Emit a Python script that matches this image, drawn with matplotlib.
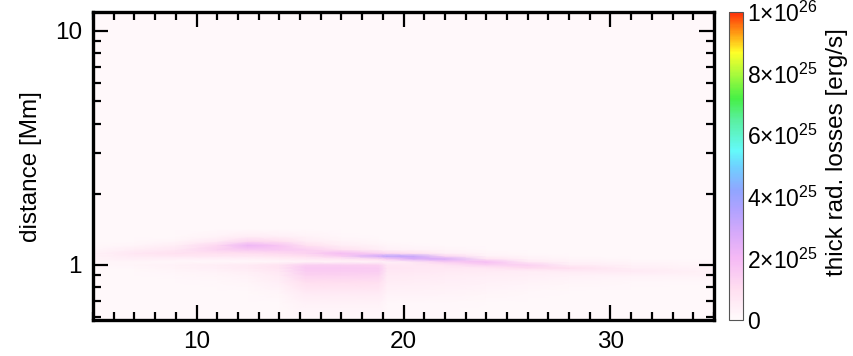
import numpy as np
import matplotlib
matplotlib.use("Agg")
import matplotlib.pyplot as plt
from matplotlib.colors import LinearSegmentedColormap
from matplotlib.ticker import MultipleLocator, LogLocator, NullFormatter

plt.rcParams['font.family'] = ['Liberation Sans', 'DejaVu Sans']
plt.rcParams['mathtext.fontset'] = 'custom'
plt.rcParams['mathtext.rm'] = 'Liberation Sans'
plt.rcParams['mathtext.it'] = 'Liberation Sans'

# time nodes (x) and distance nodes in Mm (y)
time_nodes = [5, 7, 9, 11, 12.5, 14, 15.3, 17, 18.8, 19.2, 20.5, 22, 24, 26, 28, 31, 35]
dist_nodes = [0.58, 0.68, 0.76, 0.84, 0.90, 0.94, 0.97, 1.00, 1.03, 1.06,
              1.09, 1.12, 1.16, 1.21, 1.26, 1.32, 1.42, 12.0]

# thick radiative losses in 1e25 erg/s, one row per distance node (bottom -> top)
losses = [
    [.1, .1, .1, .1, .1, .1, .15, .15, .15, .1, .1, .1, .1, .1, .1, .1, .1],
    [.1, .1, .1, .1, .1, .1, .3, .3, .3, .15, .15, .15, .1, .1, .1, .1, .1],
    [.1, .1, .1, .1, .1, .2, .6, .6, .6, .3, .3, .25, .2, .15, .1, .1, .1],
    [.1, .1, .1, .15, .2, .4, 1.0, 1.0, .95, .5, .45, .4, .35, .25, .2, .15, .1],
    [.1, .1, .15, .2, .3, .55, 1.3, 1.3, 1.25, .6, .55, .5, .45, .4, .35, .3, .3],
    [.1, .1, .2, .3, .45, .7, 1.5, 1.5, 1.45, .7, .65, .6, .55, .5, .6, .6, .25],
    [.1, .15, .25, .4, .55, .8, 1.6, 1.6, 1.5, .75, .7, .65, .7, 1.1, 1.0, .4, .2],
    [.15, .2, .3, .45, .55, .8, 1.4, 1.4, 1.3, .7, .65, .8, 1.4, 1.4, .5, .3, .15],
    [.2, .2, .15, .15, .15, .2, .3, .3, .3, .35, .7, 1.5, 1.9, .6, .3, .2, .1],
    [.25, .4, .35, .35, .35, .45, .6, .7, 1.1, 1.5, 2.7, 2.8, .8, .3, .2, .1, .1],
    [.3, .55, .7, .7, .7, .8, 1.0, 1.5, 2.9, 3.3, 3.1, 1.2, .3, .2, .1, .1, .1],
    [.3, .7, .9, .9, 1.0, 1.1, 1.3, 1.9, 1.4, 1.2, .9, .4, .2, .1, .1, .1, .1],
    [.2, .45, .7, 1.3, 1.6, 1.6, 1.4, .9, .5, .35, .3, .2, .1, .1, .1, .1, .1],
    [.1, .2, .45, 1.2, 2.2, 1.7, .9, .45, .25, .2, .15, .1, .1, .1, .1, .1, .1],
    [.1, .1, .2, .6, 1.2, 1.0, .5, .25, .15, .1, .1, .1, .1, .1, .1, .1, .1],
    [.1, .1, .1, .25, .5, .4, .25, .15, .1, .1, .1, .1, .1, .1, .1, .1, .1],
    [.1] * 17,
    [.1] * 17,
]

cbar_ticks = [0, 2, 4, 6, 8, 10]
cbar_labels = ['0', '2×10$^{25}$', '4×10$^{25}$', '6×10$^{25}$',
               '8×10$^{25}$', '1×10$^{26}$']

# white -> pink -> violet -> blue -> cyan -> green -> yellow -> red
cmap_pts = [
    (0.00, (255, 250, 251)),
    (0.10, (255, 222, 240)),
    (0.20, (245, 185, 245)),
    (0.28, (215, 170, 250)),
    (0.36, (175, 162, 255)),
    (0.42, (145, 165, 255)),
    (0.50, (110, 210, 255)),
    (0.55, (100, 250, 250)),
    (0.65, (90, 240, 160)),
    (0.72, (70, 240, 70)),
    (0.80, (170, 250, 60)),
    (0.87, (255, 255, 40)),
    (0.93, (255, 160, 20)),
    (1.00, (255, 50, 10)),
]
cmap = LinearSegmentedColormap.from_list(
    'rad', [(p, tuple(c / 255 for c in col)) for p, col in cmap_pts])

fig = plt.figure(figsize=(8.54, 3.56), dpi=100)
ax = fig.add_axes([0.109, 0.101, 0.727, 0.865])
cax = fig.add_axes([0.854, 0.101, 0.0164, 0.865])

mesh = ax.pcolormesh(time_nodes, dist_nodes, np.array(losses), cmap=cmap,
                     vmin=0, vmax=10, shading='gouraud')

ax.set_yscale('log')
ax.set_xlim(5, 35)
ax.set_ylim(0.58, 12)

ax.xaxis.set_major_locator(MultipleLocator(10))
ax.xaxis.set_minor_locator(MultipleLocator(1))
ax.set_yticks([1, 10])
ax.set_yticklabels(['1', '10'])
ax.yaxis.set_minor_locator(LogLocator(base=10, subs=np.arange(2, 10)))
ax.yaxis.set_minor_formatter(NullFormatter())

ax.tick_params(which='both', direction='in', top=True, right=True,
               labelsize=17.5, width=1.6, pad=8)
ax.tick_params(which='major', length=11)
ax.tick_params(which='minor', length=6)
for s in ax.spines.values():
    s.set_linewidth(2.4)

ax.set_ylabel('distance [Mm]', fontsize=17.5, labelpad=9)

cb = fig.colorbar(mesh, cax=cax)
cb.set_ticks(cbar_ticks)
cb.set_ticklabels(cbar_labels)
cax.tick_params(length=0, labelsize=16.5, pad=3)
cb.outline.set_linewidth(0.8)
cb.outline.set_edgecolor('#555555')
fig.text(0.980, 0.573, 'thick rad. losses [erg/s]', fontsize=17.5,
         rotation=90, ha='center', va='center')

fig.savefig('out.png', dpi=100)
